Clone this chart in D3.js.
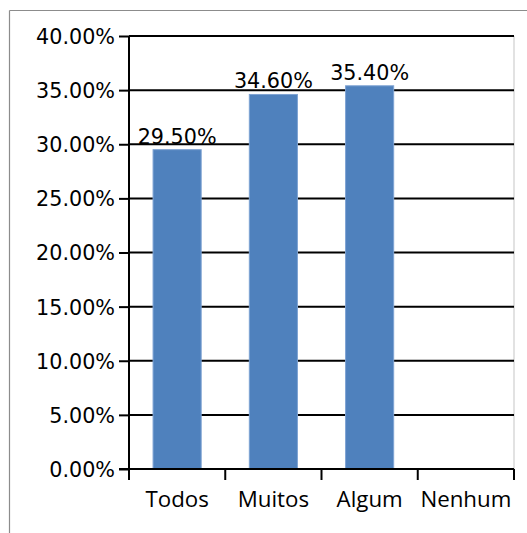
<!DOCTYPE html>
<html>
<head>
<meta charset="utf-8">
<script src="https://d3js.org/d3.v7.min.js"></script>
<style>
  body { margin: 0; background: #fff; }
  text { font-family: "DejaVu Sans", sans-serif; fill: #000; }
</style>
</head>
<body>
<div id="chart"></div>
<script>
const categories = ['Todos', 'Muitos', 'Algum', 'Nenhum'];
const values = [29.5, 34.6, 35.4, null];
const yTicks = [0, 5, 10, 15, 20, 25, 30, 35, 40];

const W = 527, H = 533;
const margin = {top: 36, right: 13, bottom: 64, left: 129};
const width = W - margin.left - margin.right,
      height = H - margin.top - margin.bottom;

const root = d3.select('#chart').append('svg')
    .attr('width', W)
    .attr('height', H);

// outer frame (partially cropped in the original)
root.append('line').attr('x1', 9.5).attr('x2', W).attr('y1', 10.5).attr('y2', 10.5)
    .attr('stroke', '#8c8c8c').attr('stroke-width', 1.2);
root.append('line').attr('x1', 9.5).attr('x2', 9.5).attr('y1', 10.5).attr('y2', H)
    .attr('stroke', '#8c8c8c').attr('stroke-width', 1.2);

const svg = root.append('g')
    .attr('transform', `translate(${margin.left},${margin.top})`);

const x = d3.scaleBand().domain(categories).range([0, width]).paddingInner(0.5).paddingOuter(0.25);
const xOuter = d3.scaleBand().domain(categories).range([0, width]);
const y = d3.scaleLinear().domain([0, 40]).range([height, 0]);

// plot area right border
svg.append('line').attr('x1', width).attr('x2', width).attr('y1', 0).attr('y2', height)
    .attr('stroke', '#d9d9d9').attr('stroke-width', 1.5);

// gridlines
svg.append('g').selectAll('line')
  .data(yTicks.filter(d => d > 0))
  .join('line')
    .attr('x1', 0).attr('x2', width)
    .attr('y1', d => y(d)).attr('y2', d => y(d))
    .attr('stroke', '#000').attr('stroke-width', 2);

// bars
svg.append('g').selectAll('rect')
  .data(categories.map((c, i) => ({c, v: values[i]})).filter(d => d.v != null))
  .join('rect')
    .attr('x', d => x(d.c))
    .attr('y', d => y(d.v))
    .attr('width', x.bandwidth())
    .attr('height', d => height - y(d.v))
    .attr('fill', '#4f81bd')
    .attr('stroke', '#7ea3d3').attr('stroke-width', 1);

// y axis
const yAxis = svg.append('g')
  .call(d3.axisLeft(y).tickValues(yTicks).tickSize(10).tickPadding(4)
        .tickFormat(d => d.toFixed(2) + '%'));
yAxis.select('.domain').attr('stroke', '#000').attr('stroke-width', 2).attr('d', `M0,0V${height}`);
yAxis.selectAll('.tick line').attr('stroke', '#000').attr('stroke-width', 2);
yAxis.selectAll('.tick text').style('font-size', '20.7px').attr('dy', '0.36em');

// x axis
const xAxis = svg.append('g')
  .attr('transform', `translate(0,${height})`)
  .call(d3.axisBottom(xOuter).tickSize(0).tickPadding(22));
xAxis.select('.domain').attr('stroke', '#000').attr('stroke-width', 2).attr('d', `M-10,0H${width}`);
xAxis.selectAll('.tick text')
    .style('font-family', '"Open Sans", sans-serif')
    .style('font-size', '22.3px');

// category boundary ticks
svg.append('g').selectAll('line')
  .data(d3.range(categories.length + 1))
  .join('line')
    .attr('x1', i => i * xOuter.step()).attr('x2', i => i * xOuter.step())
    .attr('y1', height).attr('y2', height + 11)
    .attr('stroke', '#000').attr('stroke-width', 2);

// value labels
svg.append('g').selectAll('text')
  .data(categories.map((c, i) => ({c, v: values[i]})).filter(d => d.v != null))
  .join('text')
    .attr('x', d => x(d.c) + x.bandwidth() / 2)
    .attr('y', d => y(d.v) - 6)
    .attr('text-anchor', 'middle')
    .style('font-size', '20.7px')
    .text(d => d.v.toFixed(2) + '%');
</script>
</body>
</html>
